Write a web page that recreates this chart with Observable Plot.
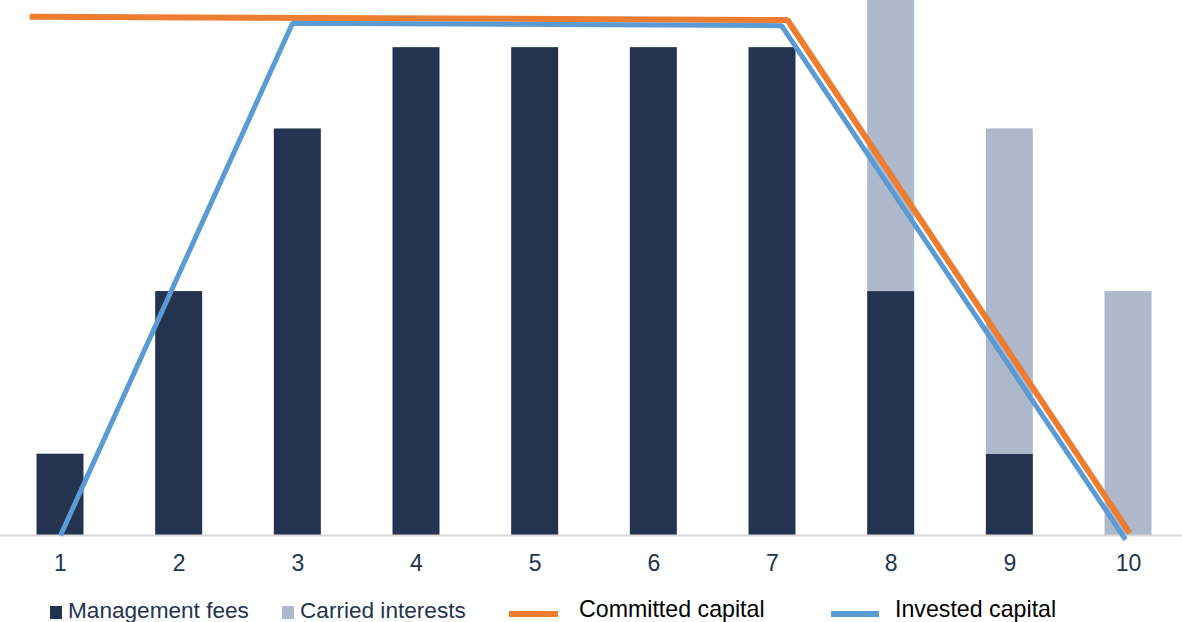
<!DOCTYPE html>
<html>
<head>
<meta charset="utf-8">
<script src="https://cdn.jsdelivr.net/npm/d3@7"></script>
<script src="https://cdn.jsdelivr.net/npm/@observablehq/plot@0.6"></script>
<style>
  html, body { margin: 0; padding: 0; background: #fff; }
  #wrap { position: relative; width: 1182px; height: 622px; overflow: hidden; font-family: "Liberation Sans", Arial, sans-serif; }
  .lg { position: absolute; white-space: nowrap; line-height: 1; }
  .sw { position: absolute; }
</style>
</head>
<body>
<div id="wrap">
  <div id="chart"></div>
  <div class="sw" style="left:50px;top:606px;width:12px;height:13px;background:#233350"></div>
  <div class="lg" style="left:68px;top:600px;font-size:22.6px;color:#233350">Management fees</div>
  <div class="sw" style="left:282px;top:606px;width:12px;height:13px;background:#adb9cb"></div>
  <div class="lg" style="left:300px;top:600px;font-size:22.6px;color:#233350">Carried interests</div>
  <div class="sw" style="left:509px;top:611px;width:49px;height:6px;background:#ed7d31"></div>
  <div class="lg" style="left:579px;top:597.5px;font-size:23.2px;color:#000">Committed capital</div>
  <div class="sw" style="left:831px;top:611px;width:48px;height:6px;background:#5b9bd5"></div>
  <div class="lg" style="left:895px;top:597.5px;font-size:23.2px;color:#000">Invested capital</div>
</div>
<script>
const years = [1, 2, 3, 4, 5, 6, 7, 8, 9, 10];
const managementFees = [1, 3, 5, 6, 6, 6, 6, 3, 1, 0];
const carriedInterests = [0, 0, 0, 0, 0, 0, 0, 4, 4, 3];
const committedX = [0.74, 7.126, 10.01];
const committedY = [6.38, 6.34, 0.03];
const investedX = [1, 2.955, 7.076, 9.975];
const investedY = [0, 6.30, 6.27, -0.05];

const bars = years.map((year, i) => ({year, mgmt: managementFees[i], carried: carriedInterests[i]}));
const committed = committedX.map((x, i) => ({x, y: committedY[i]}));
const invested = investedX.map((x, i) => ({x, y: investedY[i]}));
const hw = 0.198;

const chart = Plot.plot({
  width: 1182,
  height: 585,
  marginLeft: 0,
  marginRight: 0,
  marginTop: 0,
  marginBottom: 50,
  style: {fontFamily: "Liberation Sans, Arial, sans-serif", background: "#fff", overflow: "visible"},
  x: {domain: [0.4944, 10.455], axis: null, label: null},
  y: {domain: [0, 6.58], axis: null, label: null},
  marks: [
    Plot.rectY(bars, {x1: d => d.year - hw, x2: d => d.year + hw, y1: 0, y2: "mgmt", fill: "#233350", clip: true}),
    Plot.rectY(bars.filter(d => d.carried > 0), {x1: d => d.year - hw, x2: d => d.year + hw, y1: "mgmt", y2: d => d.mgmt + d.carried, fill: "#adb9cb", clip: true}),
    Plot.ruleY([0], {stroke: "#d9d9d9", strokeWidth: 2}),
    Plot.axisX(years, {anchor: "bottom", label: null, tickSize: 0, tickPadding: 19, fontSize: 23, fill: "#233350", tickFormat: d => String(d)}),
    Plot.line(committed, {x: "x", y: "y", stroke: "#ed7d31", strokeWidth: 6, strokeLinejoin: "miter", strokeLinecap: "butt"}),
    Plot.line(invested, {x: "x", y: "y", stroke: "#5b9bd5", strokeWidth: 5, strokeLinejoin: "miter", strokeLinecap: "butt"})
  ]
});
document.getElementById("chart").appendChild(chart);
</script>
</body>
</html>
